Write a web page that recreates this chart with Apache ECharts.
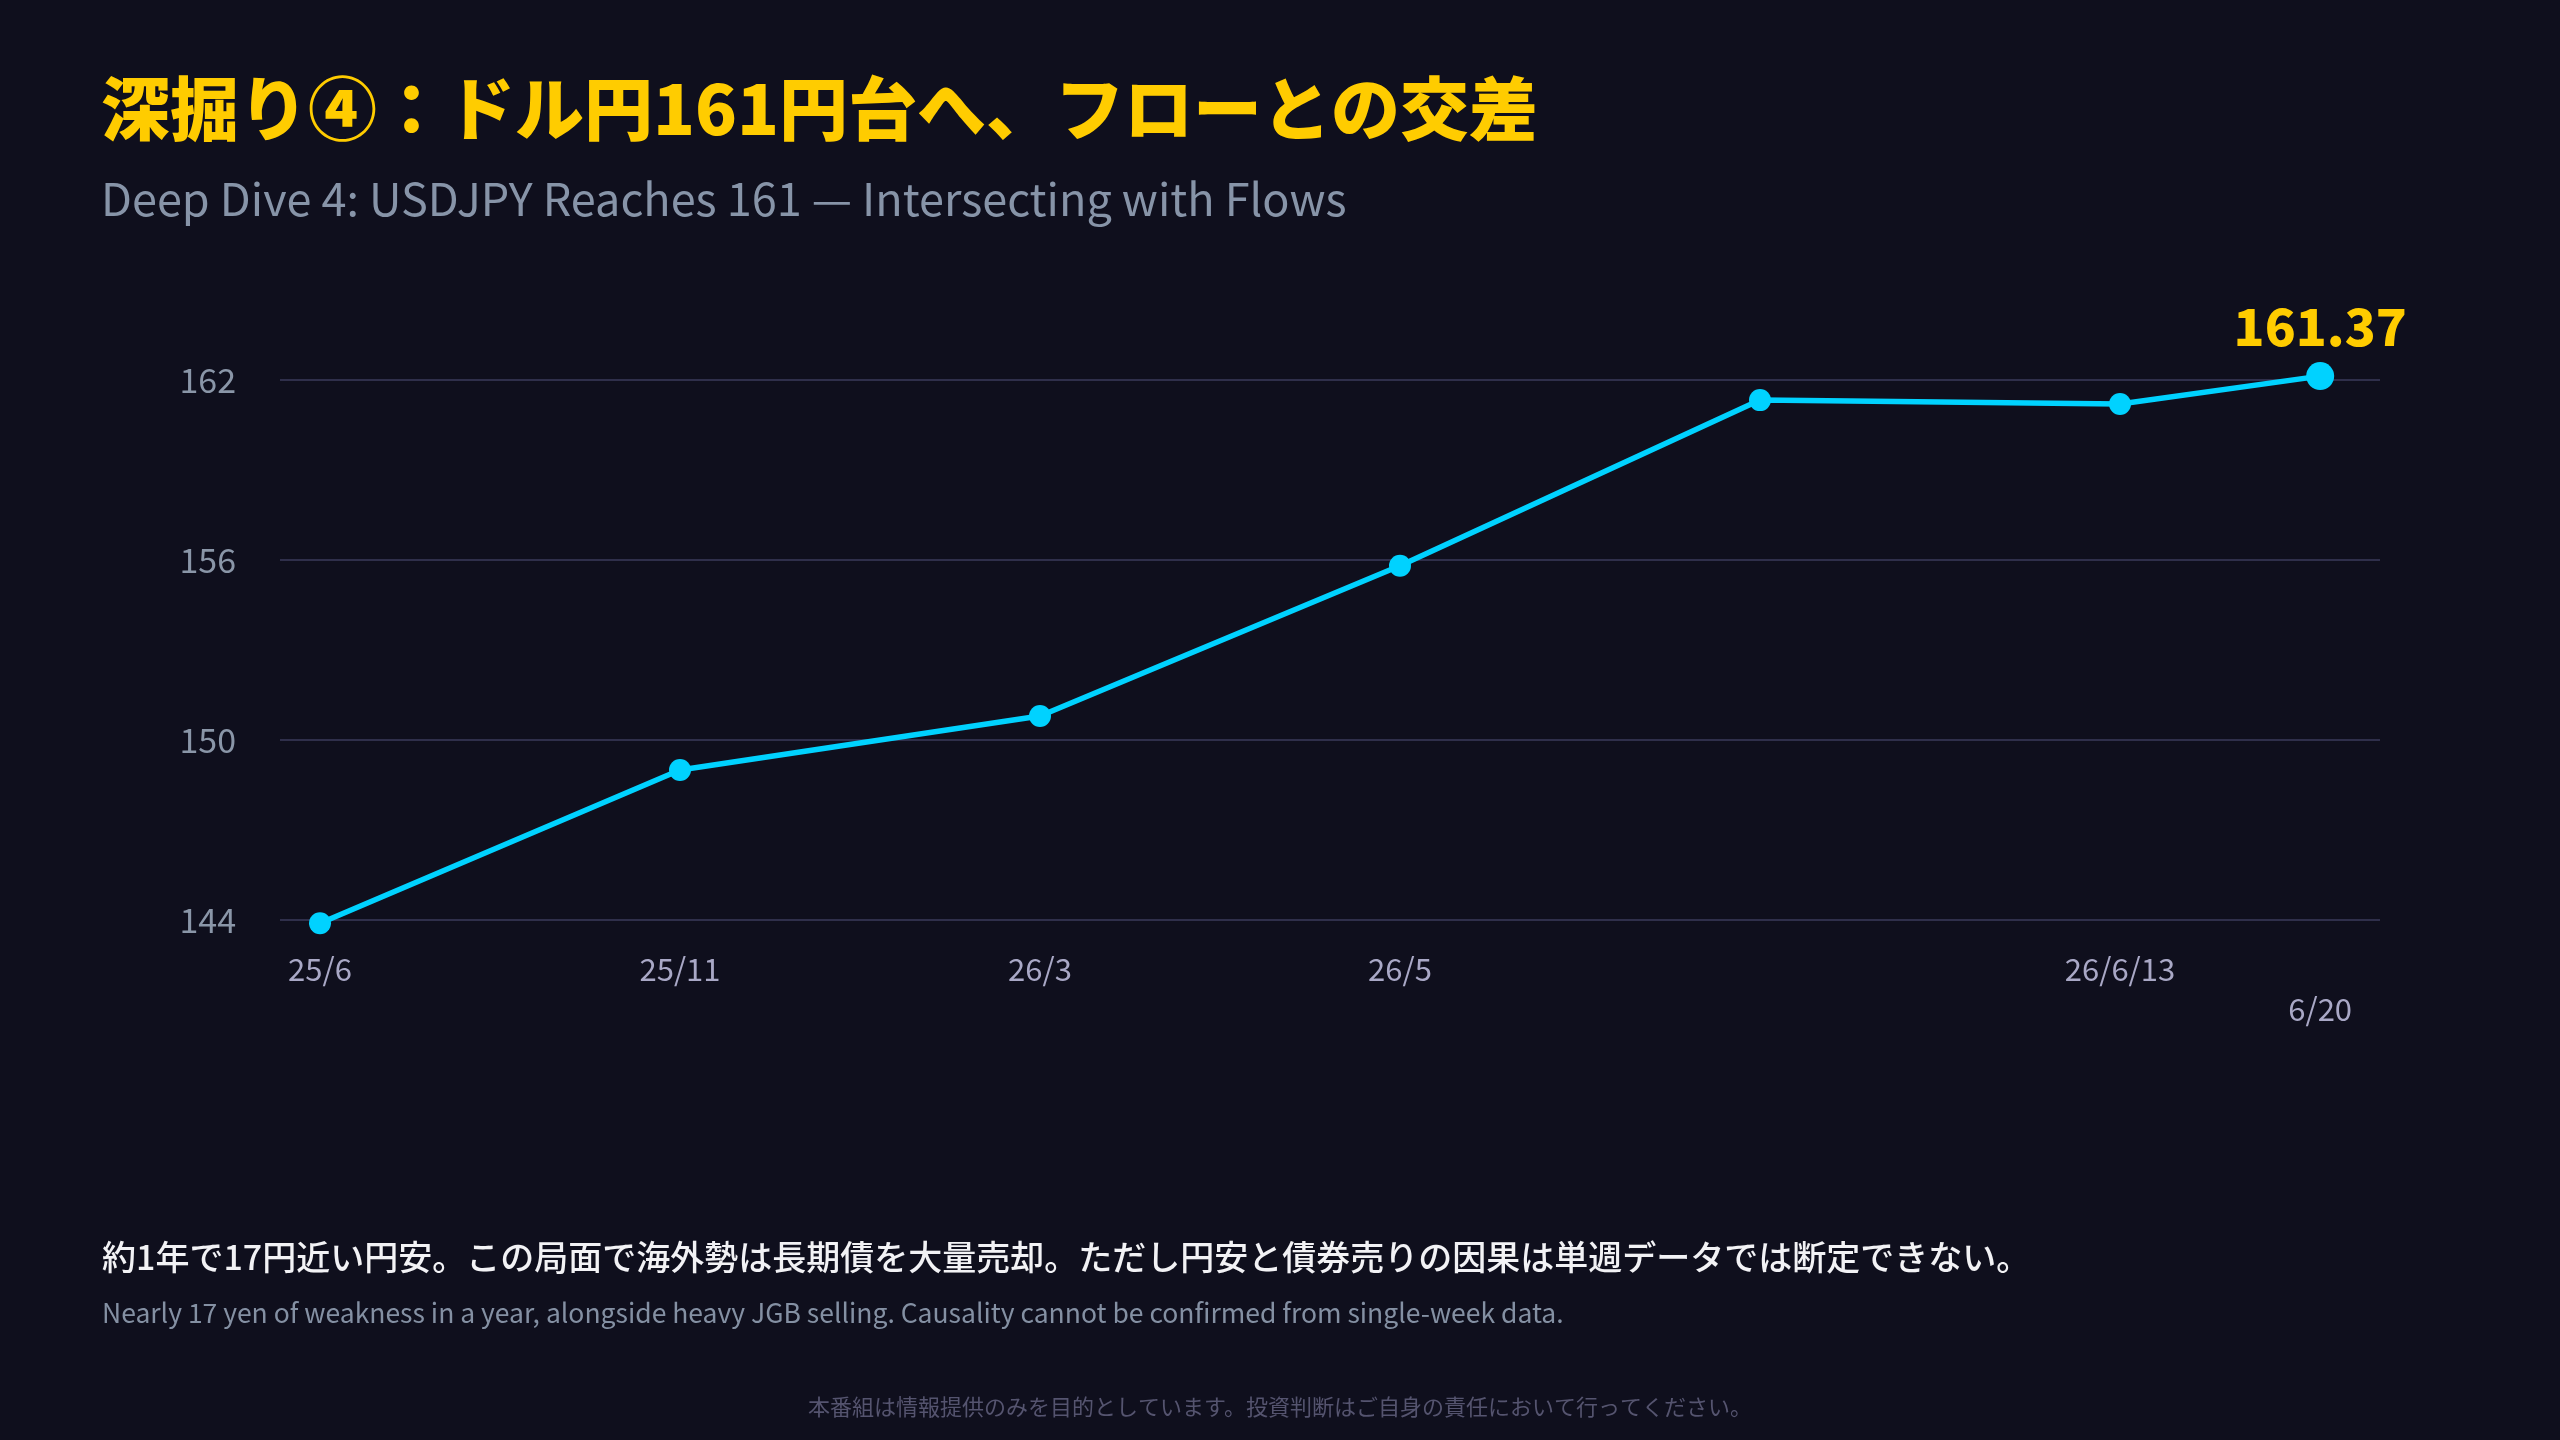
<!DOCTYPE html>
<html>
<head>
<meta charset="utf-8">
<script src="https://cdn.jsdelivr.net/npm/echarts@6/dist/echarts.min.js"></script>
<style>
  html, body { margin: 0; padding: 0; background: #0f0f1d; }
  #chart { width: 2560px; height: 1440px; }
</style>
</head>
<body>
<div id="chart"></div>
<script>
// ---- data ----
const titleText = '深掘り④：ドル円161円台へ、フローとの交差';
const subtitleText = 'Deep Dive 4: USDJPY Reaches 161 — Intersecting with Flows';
const noteJa = '約1年で17円近い円安。この局面で海外勢は長期債を大量売却。ただし円安と債券売りの因果は単週データでは断定できない。';
const noteEn = 'Nearly 17 yen of weakness in a year, alongside heavy JGB selling. Causality cannot be confirmed from single-week data.';
const disclaimer = '本番組は情報提供のみを目的としています。投資判断はご自身の責任において行ってください。';

const xLabels = ['25/6', '25/11', '26/3', '26/5', '', '26/6/13', '6/20'];
const xPositions = [0, 1, 2, 3, 4, 5, 5.556];
const usdjpy = [143.89, 149.0, 150.8, 155.81, 161.33, 161.2, 162.13];
const yTicks = [144, 150, 156, 162];
const latestLabel = '161.37';

// ---- chart ----
const FONT = '"Noto Sans CJK JP", "Noto Sans", sans-serif';
const chart = echarts.init(document.getElementById('chart'));
const lastIdx = usdjpy.length - 1;

const seriesData = usdjpy.map((v, i) => {
  const item = { value: [xPositions[i], v] };
  if (i === lastIdx) {
    item.symbolSize = 28;
    item.label = {
      show: true,
      position: 'top',
      distance: 10,
      formatter: () => latestLabel,
      color: '#ffcc00',
      fontFamily: FONT,
      fontWeight: 900,
      fontSize: 51
    };
  }
  return item;
});

const labelFor = (val) => {
  let best = -1, bd = 1e9;
  xPositions.forEach((p, i) => { const d = Math.abs(p - val); if (d < bd) { bd = d; best = i; } });
  if (best < 0 || bd > 0.01) return '';
  return best === lastIdx ? '\n' + xLabels[best] : xLabels[best];
};

chart.setOption({
  backgroundColor: '#0f0f1d',
  animation: false,
  title: [
    { text: titleText, left: 96, top: 69,
      textStyle: { color: '#ffcc00', fontSize: 69, fontWeight: 900, fontFamily: FONT } },
    { text: subtitleText, left: 96, top: 171,
      textStyle: { color: '#8794a8', fontSize: 45, fontWeight: 'normal', fontFamily: FONT } },
    { text: noteJa, left: 97, top: 1235,
      textStyle: { color: '#f2f2f5', fontSize: 34, fontWeight: 500, fontFamily: FONT } },
    { text: noteEn, left: 97, top: 1295,
      textStyle: { color: '#8490a3', fontSize: 26.5, fontWeight: 'normal', fontFamily: FONT } },
    { text: disclaimer, left: 'center', top: 1391,
      textStyle: { color: '#55546f', fontSize: 22, fontWeight: 'normal', fontFamily: FONT } }
  ],
  grid: { left: 280, right: 180, top: 380, bottom: 520 },
  xAxis: {
    type: 'value',
    min: -1 / 9,
    max: 5.7222,
    axisLine: { show: false },
    axisTick: { show: false },
    splitLine: { show: false },
    axisLabel: {
      customValues: xPositions.filter((p, i) => xLabels[i] !== ''),
      formatter: labelFor,
      color: '#a9a8c6',
      fontSize: 31,
      lineHeight: 40,
      margin: 29,
      fontFamily: FONT
    }
  },
  yAxis: {
    type: 'value',
    min: yTicks[0],
    max: yTicks[yTicks.length - 1],
    interval: yTicks[1] - yTicks[0],
    axisLine: { show: false },
    axisTick: { show: false },
    splitLine: { lineStyle: { color: '#2f2f4b', width: 2 } },
    axisLabel: { color: '#8a96a8', fontSize: 34, margin: 44, fontFamily: FONT }
  },
  series: [{
    type: 'line',
    data: seriesData,
    clip: false,
    symbol: 'circle',
    symbolSize: 22,
    lineStyle: { color: '#00d2ff', width: 5.5 },
    itemStyle: { color: '#00d2ff' }
  }]
});
</script>
</body>
</html>
